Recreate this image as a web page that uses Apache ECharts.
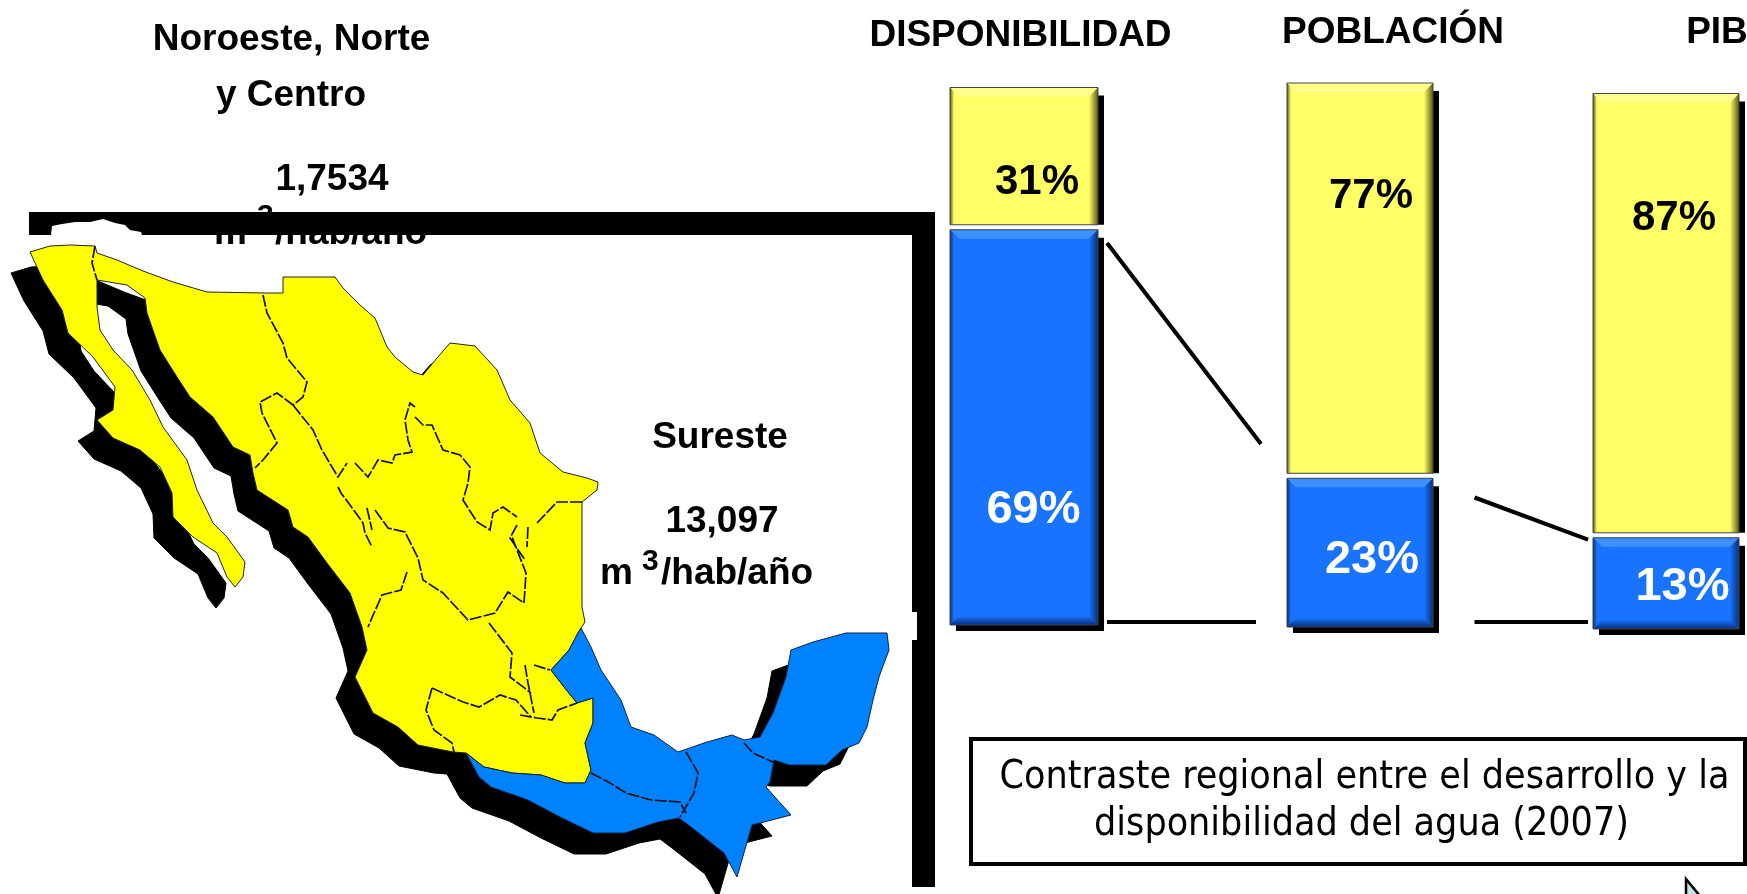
<!DOCTYPE html>
<html><head><meta charset="utf-8">
<style>html,body{margin:0;padding:0;background:#fff}#c{width:1747px;height:894px}</style>
<script src="https://cdn.jsdelivr.net/npm/echarts@6/dist/echarts.min.js"></script>
</head><body><div id="c"></div>
<script>
// ---- data ----
const barTitles = ['DISPONIBILIDAD', 'POBLACIÓN', 'PIB'];
const printedYellow = ['31%', '77%', '87%'];
const printedBlue = ['69%', '23%', '13%'];
// share of each bar's height as it is actually drawn in the picture
const drawnBlueShare = [74, 27.8, 17.5];
const drawnYellowShare = [26, 72.2, 82.5];

const noteLines = ['Contraste regional entre el desarrollo y la', 'disponibilidad del agua (2007)'];
const northName = 'Noroeste, Norte y Centro';
const southName = 'Sureste';

// map regions
const northRegion = [[30,252],[50,246],[70,245],[95,246],[97,253],[117,260],[143,271],[173,282],[190,287],[207,292],[267,293],[283,293],[283,277],[335,277],[343,288],[360,305],[375,318],[387,347],[395,357],[413,372],[423,375],[437,358],[450,343],[475,346],[497,370],[510,400],[530,423],[540,453],[563,472],[587,478],[598,482],[597,490],[582,502],[582,560],[582,607],[585,622],[581,628],[578,633],[569,650],[551,670],[564,687],[577,703],[593,698],[593,723],[585,743],[591,770],[585,783],[565,783],[541,775],[512,773],[484,767],[466,753],[453,752],[418,745],[398,727],[373,713],[355,677],[367,650],[362,627],[350,593],[327,563],[308,537],[293,527],[288,510],[257,490],[253,473],[250,455],[233,447],[213,417],[190,397],[177,377],[160,350],[147,313],[145,298],[127,285],[97,280],[97,307],[100,330],[113,350],[132,370],[150,400],[163,427],[187,460],[197,490],[213,523],[227,537],[245,562],[243,577],[235,587],[227,577],[217,553],[193,537],[173,517],[172,493],[160,467],[140,450],[113,438],[97,420],[113,410],[115,387],[93,357],[68,333],[62,310],[43,280]];
const southRegion = [[581,628],[591,647],[601,670],[621,700],[631,727],[654,735],[678,752],[707,742],[732,735],[744,740],[760,737],[773,713],[786,677],[791,650],[813,642],[846,633],[887,633],[889,650],[879,677],[873,700],[867,727],[859,743],[842,750],[826,765],[789,765],[774,760],[770,782],[766,787],[791,815],[752,825],[737,877],[724,853],[691,827],[679,818],[658,822],[625,833],[593,833],[560,817],[528,800],[491,787],[479,777],[466,753],[484,767],[512,773],[541,775],[565,783],[585,783],[591,770],[585,743],[593,723],[593,698],[577,703],[564,687],[551,670],[569,650],[578,633]];
const innerBorders = [
  [[95,246],[92,263],[97,280]],
  [[263,295],[267,313],[283,343],[287,358],[307,382],[303,397],[293,405],[277,393],[260,402],[262,413],[277,443],[263,460],[255,468]],
  [[293,405],[313,430],[322,450],[332,467],[338,477],[347,463]],
  [[355,463],[368,477],[378,460],[392,463],[395,455],[412,452],[408,440],[405,420],[410,403],[415,407]],
  [[415,417],[423,425],[432,425],[443,450],[460,455],[470,467],[468,483],[463,500],[477,522],[490,530],[493,513],[503,507],[517,517]],
  [[537,523],[557,502],[582,502]],
  [[517,525],[510,538],[525,560]],
  [[528,527],[527,547]],
  [[338,487],[341,493],[350,505],[363,523],[365,533],[372,547]],
  [[367,508],[372,530]],
  [[375,510],[388,528],[405,532],[418,558],[423,580],[443,593],[468,620],[495,613],[508,592],[524,603],[526,573],[512,537]],
  [[407,572],[401,590],[382,595],[374,613],[368,627]],
  [[489,623],[512,653],[510,677],[531,693]],
  [[525,665],[528,683],[534,713]],
  [[534,665],[550,670]],
  [[432,688],[463,702],[479,707],[500,695],[516,700],[531,717]],
  [[432,688],[426,710],[434,730],[452,743],[454,752]],
  [[520,715],[537,718],[552,720],[558,710],[577,703]],
  [[591,773],[610,783],[626,793],[651,800],[680,802],[686,813]],
  [[686,752],[698,773],[694,793],[680,817]],
  [[744,743],[753,753],[775,763]]
];

// ---- drawing ----
const gridBoxes = [
  {left:950, width:148, top:87.5, height:537.5},
  {left:1287, width:146, top:83, height:544},
  {left:1593, width:146, top:93.5, height:535.5}
];
const FONT = '"Liberation Sans", Arial, sans-serif';

function renderSegment(params, api) {
  const isBlue = params.dataIndex === 0;
  const w = api.size([1, 0])[0];
  const cx = api.coord([0, 0])[0];
  const x0 = cx - w / 2, x1 = cx + w / 2;
  let top = api.coord([0, api.value(2)])[1];
  let bot = api.coord([0, api.value(1)])[1];
  if (isBlue) top += 2.5; else bot -= 2.5;
  const base = isBlue ? '#1874FF' : '#FFFF66';
  const light = isBlue ? '#3F90FF' : '#FFFF8C';
  const dark = isBlue ? '#072F78' : '#5A5A18';
  const rect = (x, y, w2, h, fill) => ({type:'rect', shape:{x, y, width:w2, height:h}, style:{fill}});
  const poly = (points, fill) => ({type:'polygon', shape:{points}, style:{fill}});
  const grad = (x, y, x2, y2, a, b) => ({type:'linear', x, y, x2, y2, colorStops:[{offset:0, color:a},{offset:1, color:b}]});
  const b = 9;
  const children = [
    rect(x1, top + 8, 6, bot - top - 8 + (isBlue ? 6 : 0), '#000')
  ];
  if (isBlue) children.push(rect(x0 + 6, bot, w, 6, '#000'));
  children.push(rect(x0, top, w, bot - top, base));
  children.push(poly([[x0, top],[x1, top],[x1 - b, top + b],[x0 + b, top + b]], light));
  children.push(poly([[x1, top],[x1, bot],[x1 - b, isBlue ? bot - b : bot],[x1 - b, top + b]], grad(0,0,1,0, base, dark)));
  children.push(poly([[x0, top],[x0 + 4, top + 4],[x0 + 4, isBlue ? bot - 4 : bot],[x0, bot]], grad(0,0,1,0, dark, base)));
  if (isBlue) children.push(poly([[x0, bot],[x1, bot],[x1 - b, bot - b],[x0 + b, bot - b]], grad(0,0,0,1, base, dark)));
  children.push({type:'rect', shape:{x:x0, y:top, width:w, height:bot - top}, style:{fill:'none', stroke:'#444', lineWidth:1}});
  return {type:'group', children};
}

function bounds(points) {
  const xs = points.map(p => p[0]), ys = points.map(p => p[1]);
  const l = Math.min(...xs), t = Math.min(...ys);
  return {left:l, top:t, width:Math.max(...xs) - l, height:Math.max(...ys) - t};
}
const mapBounds = bounds(northRegion.concat(southRegion));
echarts.registerMap('mexico', {type:'FeatureCollection', features:[
  {type:'Feature', properties:{name:northName}, geometry:{type:'Polygon', coordinates:[northRegion.concat([northRegion[0]])]}},
  {type:'Feature', properties:{name:southName}, geometry:{type:'Polygon', coordinates:[southRegion.concat([southRegion[0]])]}}
]});
const identity = {project: p => p, unproject: p => p};

function baseText(text, x, baseline, size, opts) {
  opts = opts || {};
  return {type:'text', x, y: baseline - 0.26 * size, z: opts.z || 10, silent:true, style:{
    text, fill: opts.fill || '#000', font: (opts.weight || 'bold') + ' ' + size + 'px ' + (opts.family || FONT),
    align: opts.align || 'center', verticalAlign:'middle'
  }};
}
function box(x, y, width, height, fill, z) {
  return {type:'rect', z, silent:true, shape:{x, y, width, height}, style:{fill}};
}
function seg(x1, y1, x2, y2) {
  return {type:'line', z:5, silent:true, shape:{x1, y1, x2, y2}, style:{stroke:'#000', lineWidth:4}};
}

const titleAt = [[1020.5, 45, 37], [1393, 42, 37], [1717, 42, 37]];
const yellowAt = [[1037, 193], [1371, 207], [1674, 229]];
const blueAt = [[1033.5, 522], [1372, 572], [1682.5, 599]];
const noteFont = '"DejaVu Sans Condensed", "DejaVu Sans", sans-serif';

const graphics = [
  baseText('Noroeste, Norte', 291.5, 49.5, 37),
  baseText('y Centro', 291, 105, 37),
  baseText('1,7534', 332, 189, 37),
  baseText('m', 214, 243, 37, {align:'left'}),
  baseText('3', 257, 225, 30, {align:'left'}),
  baseText('/hab/año', 275, 243, 37, {align:'left'}),
  baseText('Sureste', 720, 447, 37),
  baseText('13,097', 722, 531, 37),
  baseText('m', 600, 583, 37, {align:'left'}),
  baseText('3', 642, 570, 30, {align:'left'}),
  baseText('/hab/año', 661, 583, 37, {align:'left'}),
  box(29, 212, 906, 23, '#000', 20),
  box(912, 212, 23, 675, '#000', 20),
  box(911, 612, 6, 28, '#fff', 21),
  {type:'polygon', z:21, silent:true, shape:{points:[[51,235],[52,226],[62,224],[75,222],[90,222],[103,219],[115,223],[125,225],[130,230],[141,232],[142,235]]}, style:{fill:'#fff'}},
  seg(1107, 243, 1261, 444),
  seg(1107, 622, 1256, 622),
  seg(1474.5, 497.5, 1588, 539.6),
  seg(1474.5, 622, 1588, 622),
  {type:'rect', z:5, silent:true, shape:{x:971, y:739, width:774, height:125}, style:{fill:'#fff', stroke:'#000', lineWidth:4}},
  baseText(noteLines[0], 1364.5, 788, 39, {weight:'normal', family:noteFont, z:6}),
  baseText(noteLines[1], 1361.5, 835, 39, {weight:'normal', family:noteFont, z:6}),
  {type:'polygon', z:6, silent:true, shape:{points:[[1686,879],[1686,896],[1700,896]]}, style:{fill:'#BFE3E8', stroke:'#000', lineWidth:2.5}}
];
barTitles.forEach((t, i) => graphics.push(baseText(t, titleAt[i][0], titleAt[i][1], titleAt[i][2])));
printedYellow.forEach((t, i) => graphics.push(baseText(t, yellowAt[i][0], yellowAt[i][1], 42, {z:30})));
printedBlue.forEach((t, i) => graphics.push(baseText(t, blueAt[i][0], blueAt[i][1], 47, {fill:'#fff', z:30})));

const chart = echarts.init(document.getElementById('c'));
chart.setOption({
  animation:false,
  backgroundColor:'#fff',
  grid: gridBoxes.map(g => Object.assign({containLabel:false}, g)),
  xAxis: barTitles.map((t, i) => ({type:'category', gridIndex:i, data:[t], show:false})),
  yAxis: barTitles.map((t, i) => ({type:'value', gridIndex:i, min:0, max:100, show:false})),
  geo: [
    {map:'mexico', silent:true, roam:false, projection:identity, z:1,
     left:mapBounds.left - 19, top:mapBounds.top + 21, width:mapBounds.width, height:mapBounds.height,
     itemStyle:{areaColor:'#000', borderColor:'#000', borderWidth:1}, label:{show:false}},
    {map:'mexico', silent:true, roam:false, projection:identity, z:2,
     left:mapBounds.left, top:mapBounds.top, width:mapBounds.width, height:mapBounds.height,
     itemStyle:{areaColor:'#FFFF00', borderColor:'#222', borderWidth:1}, label:{show:false},
     regions:[{name:southName, itemStyle:{areaColor:'#0082FF', borderColor:'#124'}}]}
  ],
  series: [
    ...barTitles.map((t, i) => ({
      type:'custom', name:t, xAxisIndex:i, yAxisIndex:i, silent:true, z:3,
      renderItem:renderSegment, encode:{x:0, y:[1,2]},
      data:[[0, 0, drawnBlueShare[i]], [0, drawnBlueShare[i], drawnBlueShare[i] + drawnYellowShare[i]]]
    })),
    {type:'lines', coordinateSystem:'geo', geoIndex:1, polyline:true, silent:true, z:4,
     lineStyle:{color:'#111', width:1.7, type:[12,2], opacity:1},
     data: innerBorders.map(coords => ({coords}))}
  ],
  graphic: {elements: graphics}
});
</script></body></html>
